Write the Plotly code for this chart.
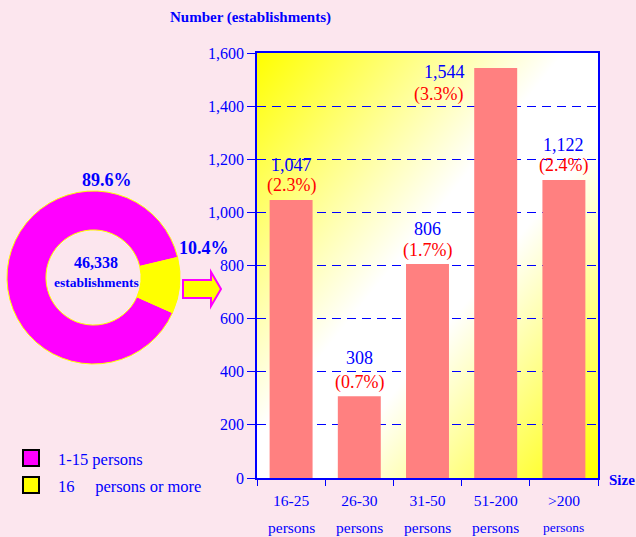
import base64
import plotly.graph_objects as go

# ---------------- data ----------------
size_categories = ["16-25", "26-30", "31-50", "51-200", ">200"]
size_sublabels = ["persons", "persons", "persons", "persons", "persons"]
establishments = [1047, 308, 806, 1544, 1122]
share_labels = ["(2.3%)", "(0.7%)", "(1.7%)", "(3.3%)", "(2.4%)"]

pie_labels = ["1-15 persons", "16\u00a0\u00a0\u00a0\u00a0 persons or more"]
pie_shares = [89.6, 10.4]
total_text = ["46,338", "establishments"]

y_ticks = [0, 200, 400, 600, 800, 1000, 1200, 1400, 1600]

# ---------------- style ----------------
W, H = 636, 537
BLUE = "#0000FF"
PINK_BG = "#FCE6EE"
BAR = "#FF8080"
MAGENTA = "#FF00FF"
YELLOW = "#FFFF00"
SERIF = "Liberation Serif, Times New Roman, serif"


def px(x):
    return x / W


def py(y):
    return (H - y) / H


# plot area in pixels
PL, PR, PT, PB = 257, 598, 53, 478

fig = go.Figure()

fig.add_trace(go.Bar(
    x=size_categories, y=establishments,
    marker=dict(color=BAR, line=dict(width=0)),
    hoverinfo="skip", showlegend=False,
))

# donut
pie_colors = [MAGENTA, YELLOW]
fig.add_trace(go.Pie(
    values=pie_shares, labels=pie_labels, sort=False,
    direction="clockwise", rotation=114,
    hole=0.55, textinfo="none", hoverinfo="skip", showlegend=False,
    marker=dict(colors=pie_colors, line=dict(color=YELLOW, width=1)),
    domain=dict(x=[px(7), px(180)], y=[py(364), py(191)]),
))

# gradient background for plot area (SVG)
svg = ("<svg xmlns='http://www.w3.org/2000/svg' width='100' height='100' preserveAspectRatio='none'>"
       "<defs><linearGradient id='g' x1='0' y1='0' x2='1' y2='1'>"
       "<stop offset='0' stop-color='#ffff00'/>"
       "<stop offset='0.45' stop-color='#ffffff'/>"
       "<stop offset='0.6' stop-color='#ffffff'/>"
       "<stop offset='1' stop-color='#ffff00'/>"
       "</linearGradient></defs>"
       "<rect width='100' height='100' fill='url(#g)'/></svg>")
src = "data:image/svg+xml;base64," + base64.b64encode(svg.encode()).decode()

annotations = []


def note(x, y, text, size, color=BLUE, xanchor="center", **kw):
    d = dict(x=x, y=y, text=text, showarrow=False, xanchor=xanchor, yanchor="middle",
             font=dict(family=SERIF, size=size, color=color))
    d.update(kw)
    annotations.append(d)


# bar labels
label_offsets = [(0, 35, 0, 14), (0, 38, 0, 14), (0, 35, 0, 13), (-51, -4, -57, -27), (0, 35, 0, 14)]
for cat, val, pct, (vx, vy, qx, qy) in zip(size_categories, establishments, share_labels, label_offsets):
    note(cat, val, f"{val:,}", 18, xref="x", yref="y", xshift=vx, yshift=vy)
    note(cat, val, pct, 18, color="#FF0000", xref="x", yref="y", xshift=qx, yshift=qy)

# second line of x tick labels
sub_sizes = [15.5, 15.5, 15.5, 15.5, 13.5]
for cat, sub, fs in zip(size_categories, size_sublabels, sub_sizes):
    note(cat, py(527), sub, fs, xref="x", yref="paper")

# axis titles
note(px(250), py(18), "<b>Number (establishments)</b>", 15, xref="paper", yref="paper")
note(px(622), py(480), "<b>Size</b>", 15, xref="paper", yref="paper")

# donut labels
note(px(107), py(180), f"<b>{pie_shares[0]}%</b>", 18, xref="paper", yref="paper")
note(px(204), py(248), f"<b>{pie_shares[1]}%</b>", 18, xref="paper", yref="paper")
note(px(96), py(262), f"<b>{total_text[0]}</b>", 16, xref="paper", yref="paper")
note(px(96), py(283), f"<b>{total_text[1]}</b>", 13.5, xref="paper", yref="paper")

# manual legend
shapes = []
leg_y = [458, 485]
for lab, col, ly in zip(pie_labels, pie_colors, leg_y):
    shapes.append(dict(type="rect", xref="paper", yref="paper",
                       x0=px(23), x1=px(39), y0=py(ly - 8), y1=py(ly + 8),
                       fillcolor=col, line=dict(color="black", width=2)))
    note(px(56), py(ly + 1), lab, 16.5, xanchor="left", xref="paper", yref="paper")

# arrow from donut to bars
pts = [(183, 280), (211, 280), (211, 272), (221, 289), (211, 306), (211, 298), (183, 298)]
path = "M " + " L ".join(f"{px(a):.5f},{py(b):.5f}" for a, b in pts) + " Z"
shapes.append(dict(type="path", xref="paper", yref="paper", path=path,
                   fillcolor=YELLOW, line=dict(color=MAGENTA, width=2)))

fig.update_layout(
    width=W, height=H, autosize=False,
    margin=dict(l=0, r=0, t=0, b=0, autoexpand=False),
    paper_bgcolor=PINK_BG,
    plot_bgcolor="rgba(0,0,0,0)",
    bargap=0.37,
    xaxis=dict(domain=[px(PL), px(PR)], type="category", automargin=False,
               showline=True, linecolor=BLUE, linewidth=1.5, mirror=True,
               ticks="outside", tickson="boundaries", ticklen=6, tickcolor=BLUE,
               ticklabelstandoff=8,
               showgrid=False,
               tickfont=dict(family=SERIF, size=15.5, color=BLUE)),
    yaxis=dict(domain=[py(PB), py(PT)], range=[0, 1600], tickvals=y_ticks,
               tickformat=",d", automargin=False,
               showline=True, linecolor=BLUE, linewidth=1.5, mirror=True,
               ticks="outside", ticklen=8, tickcolor=BLUE,
               showgrid=True, gridcolor=BLUE, griddash="9px,6px", gridwidth=1,
               zeroline=False,
               tickfont=dict(family=SERIF, size=16, color=BLUE)),
    images=[dict(source=src, xref="x domain", yref="y domain", x=0, y=1,
                 sizex=1, sizey=1, sizing="stretch", xanchor="left", yanchor="top",
                 layer="below")],
    annotations=annotations,
    shapes=shapes,
)

fig.write_html("out.html",
               config={"displayModeBar": False, "responsive": False},
               post_script="document.body.style.margin='0';"
                           "document.body.style.overflow='hidden';"
                           "document.body.style.background='" + PINK_BG + "';")
